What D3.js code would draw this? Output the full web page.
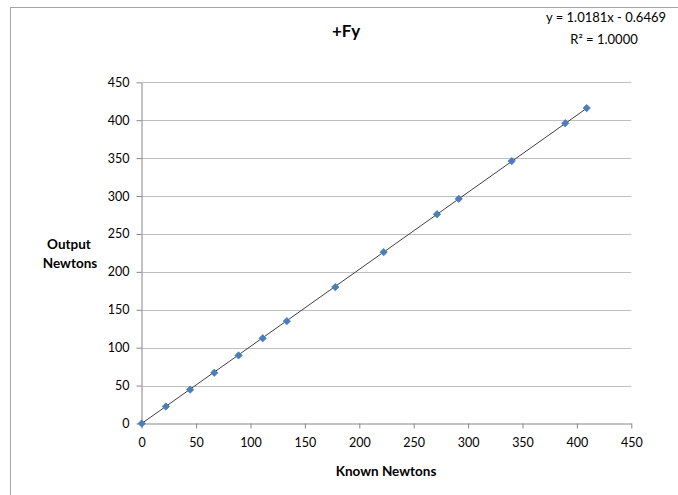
<!DOCTYPE html>
<html>
<head>
<meta charset="utf-8">
<script src="https://cdn.jsdelivr.net/npm/d3@7"></script>
<style>
  body { margin: 0; background: #fff; }
  text { font-family: Lato, "Open Sans", sans-serif; fill: #000; }
</style>
</head>
<body>
<div id="chart"></div>
<script>
var w = 678;
var h = 495;

// data
var known = [0, 22.2, 44.5, 66.7, 89.0, 111.2, 133.4, 177.9, 222.4, 271.4, 291.4, 340.1, 389.3, 409.0];
var output = [0, 22.4, 44.6, 66.9, 89.8, 112.4, 135.0, 179.9, 226.0, 276.0, 296.3, 346.1, 396.0, 416.0];
var xTicks = [0, 50, 100, 150, 200, 250, 300, 350, 400, 450];
var yTicks = [0, 50, 100, 150, 200, 250, 300, 350, 400, 450];
var slope = 1.0181;
var intercept = -0.6469;

var dataset = known.map((k, i) => [k, output[i]]);

// plot area edges
var plotLeft = 141.7, plotRight = 631.3, plotTop = 82.3, plotBottom = 423.5;

var xScale = d3.scaleLinear().domain([0, 450]).range([plotLeft, plotRight]);
var yScale = d3.scaleLinear().domain([0, 450]).range([plotBottom, plotTop]);

var svg = d3.select("#chart").append("svg").attr("width", w).attr("height", h);

// chart frame (only left/top edges visible)
svg.append("rect")
  .attr("x", 10.5).attr("y", 7.5)
  .attr("width", 700).attr("height", 520)
  .attr("fill", "none").attr("stroke", "#a6a6a6").attr("stroke-width", 1);

// gridlines
svg.append("g")
  .selectAll("line")
  .data(yTicks.slice(1))
  .enter()
  .append("line")
  .attr("x1", plotLeft).attr("x2", plotRight)
  .attr("y1", (d) => Math.round(yScale(d)) + 0.5)
  .attr("y2", (d) => Math.round(yScale(d)) + 0.5)
  .attr("stroke", "#bfbfbf");

// axes
var xAxis = d3.axisBottom(xScale).tickValues(xTicks).tickSize(5).tickSizeOuter(0);
var yAxis = d3.axisLeft(yScale).tickValues(yTicks).tickSize(5).tickSizeOuter(0);

var gx = svg.append("g")
  .attr("transform", "translate(0," + (Math.round(plotBottom) - 0.5) + ")")
  .call(xAxis);
var gy = svg.append("g")
  .attr("transform", "translate(" + (Math.round(plotLeft) - 0.5) + ",0)")
  .call(yAxis);

[gx, gy].forEach((g) => {
  g.select(".domain").attr("stroke", "#868686");
  g.selectAll(".tick line").attr("stroke", "#868686");
  g.selectAll(".tick text")
    .attr("font-family", "Lato, sans-serif")
    .attr("font-size", "12.5px")
    .attr("fill", "#000");
});
gx.selectAll(".tick text").attr("dy", "1.25em");
gy.selectAll(".tick text").attr("x", -12);

// trendline
svg.append("line")
  .attr("x1", xScale(0))
  .attr("y1", yScale(Math.max(0, slope * 0 + intercept)))
  .attr("x2", xScale(d3.max(known)))
  .attr("y2", yScale(slope * d3.max(known) + intercept))
  .attr("stroke", "#404040")
  .attr("stroke-width", 1);

// diamond markers
svg.append("g")
  .selectAll("path")
  .data(dataset)
  .enter()
  .append("path")
  .attr("d", d3.symbol().type(d3.symbolDiamond2).size(34))
  .attr("transform", (d) => "translate(" + xScale(d[0]) + "," + yScale(d[1]) + ")")
  .attr("fill", "#4a7ebb")
  .attr("stroke", "#4a7ebb")
  .attr("stroke-width", 0.8);

// titles
svg.append("text")
  .attr("x", 346).attr("y", 37)
  .attr("text-anchor", "middle")
  .attr("font-size", "17px")
  .attr("font-weight", "bold")
  .text("+Fy");

svg.append("text")
  .attr("x", 606).attr("y", 22)
  .attr("text-anchor", "middle")
  .attr("font-size", "13px")
  .text("y = 1.0181x - 0.6469");
svg.append("text")
  .attr("x", 604).attr("y", 44)
  .attr("text-anchor", "middle")
  .attr("font-size", "13px")
  .text("R² = 1.0000");

svg.append("text")
  .attr("x", 69).attr("y", 249)
  .attr("text-anchor", "middle")
  .attr("font-size", "13.5px")
  .attr("font-weight", "bold")
  .text("Output");
svg.append("text")
  .attr("x", 70).attr("y", 268)
  .attr("text-anchor", "middle")
  .attr("font-size", "13.5px")
  .attr("font-weight", "bold")
  .text("Newtons");

svg.append("text")
  .attr("x", 386).attr("y", 476)
  .attr("text-anchor", "middle")
  .attr("font-size", "13.5px")
  .attr("font-weight", "bold")
  .text("Known Newtons");
</script>
</body>
</html>
